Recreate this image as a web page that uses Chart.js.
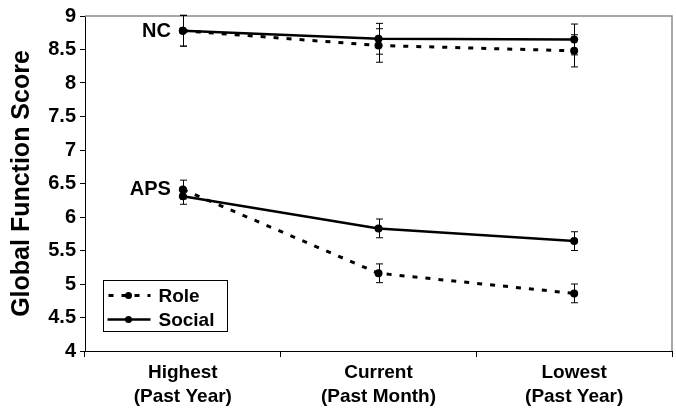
<!DOCTYPE html>
<html>
<head>
<meta charset="utf-8">
<script src="https://cdn.jsdelivr.net/npm/chart.js@4/dist/chart.umd.min.js"></script>
<style>
  html, body { margin: 0; padding: 0; background: #fff; }
  #wrap { width: 676px; height: 408px; position: relative; }
</style>
</head>
<body>
<div id="wrap"><canvas id="c" width="676" height="408"></canvas></div>
<script>
// ---- data ----
const categories = [["Highest", "(Past Year)"], ["Current", "(Past Month)"], ["Lowest", "(Past Year)"]];
const yTicks = [4, 4.5, 5, 5.5, 6, 6.5, 7, 7.5, 8, 8.5, 9];
const ncRole = [8.78, 8.56, 8.48];
const ncRoleErr = [0.23, 0.25, 0.24];
const ncSocial = [8.78, 8.66, 8.65];
const ncSocialErr = [0.23, 0.23, 0.23];
const apsRole = [6.41, 5.16, 4.86];
const apsRoleErr = [0.14, 0.14, 0.14];
const apsSocial = [6.31, 5.83, 5.64];
const apsSocialErr = [0.12, 0.14, 0.14];
const seriesNames = ["Role", "Social"];
const groupLabels = ["NC", "APS"];

const FONT = "'Liberation Sans', Arial, sans-serif";
const roleStyle = { borderColor: "#000", backgroundColor: "#000", borderWidth: 3, borderDash: [5, 8], pointRadius: 4, pointBackgroundColor: "#000", pointBorderWidth: 0 };
const socialStyle = { borderColor: "#000", backgroundColor: "#000", borderWidth: 2.5, borderDash: [], pointRadius: 4, pointBackgroundColor: "#000", pointBorderWidth: 0 };

const datasets = [
  Object.assign({ label: "NC " + seriesNames[0], data: ncRole, errors: ncRoleErr }, roleStyle),
  Object.assign({ label: "NC " + seriesNames[1], data: ncSocial, errors: ncSocialErr }, socialStyle),
  Object.assign({ label: "APS " + seriesNames[0], data: apsRole, errors: apsRoleErr }, roleStyle),
  Object.assign({ label: "APS " + seriesNames[1], data: apsSocial, errors: apsSocialErr }, socialStyle)
];
datasets.forEach(d => { d.tension = 0; d.fill = false; });

// frame (top/right gray border)
const framePlugin = {
  id: "frame",
  beforeDatasetsDraw(chart) {
    const { ctx, chartArea: a } = chart;
    ctx.save();
    ctx.strokeStyle = "#8a8a8a";
    ctx.lineWidth = 1.5;
    ctx.beginPath();
    ctx.moveTo(a.left, a.top);
    ctx.lineTo(a.right, a.top);
    ctx.lineTo(a.right, a.bottom);
    ctx.stroke();
    ctx.restore();
  }
};

// error bars
const errorBarPlugin = {
  id: "errorBars",
  afterDatasetsDraw(chart) {
    const { ctx } = chart;
    const xs = chart.scales.x, ys = chart.scales.y;
    ctx.save();
    ctx.strokeStyle = "#000";
    ctx.lineWidth = 1;
    chart.data.datasets.forEach(ds => {
      ds.data.forEach((v, i) => {
        const e = ds.errors[i];
        const x = Math.round(xs.getPixelForValue(i)) + 0.5;
        const yt = ys.getPixelForValue(v + e);
        const yb = ys.getPixelForValue(v - e);
        ctx.beginPath();
        ctx.moveTo(x, yt); ctx.lineTo(x, yb);
        ctx.moveTo(x - 3.5, yt); ctx.lineTo(x + 3.5, yt);
        ctx.moveTo(x - 3.5, yb); ctx.lineTo(x + 3.5, yb);
        ctx.stroke();
      });
    });
    ctx.restore();
  }
};

// group labels and legend box
const annotPlugin = {
  id: "annot",
  afterDraw(chart) {
    const { ctx } = chart;
    const xs = chart.scales.x, ys = chart.scales.y;
    ctx.save();
    ctx.fillStyle = "#000";
    ctx.font = "bold 20px " + FONT;
    ctx.textBaseline = "middle";
    ctx.textAlign = "right";
    const x0 = xs.getPixelForValue(0);
    ctx.fillText(groupLabels[0], x0 - 12, ys.getPixelForValue(ncSocial[0]) + 1);
    ctx.fillText(groupLabels[1], x0 - 12, ys.getPixelForValue((apsRole[0] + apsSocial[0]) / 2) - 3);

    // legend
    const bx = 103.5, by = 280.5, bw = 124, bh = 51;
    ctx.fillStyle = "#fff";
    ctx.fillRect(bx, by, bw, bh);
    ctx.strokeStyle = "#000";
    ctx.lineWidth = 1;
    ctx.strokeRect(bx, by, bw, bh);
    const styles = [roleStyle, socialStyle];
    const rows = [by + 15, by + 39];
    styles.forEach((s, i) => {
      const y = rows[i];
      ctx.save();
      ctx.strokeStyle = "#000";
      ctx.lineWidth = s.borderWidth;
      ctx.setLineDash(s.borderDash);
      ctx.beginPath();
      if (i === 0) { ctx.moveTo(bx + 5, y); } else { ctx.moveTo(bx + 4, y); }
      ctx.lineTo(bx + 47, y);
      ctx.stroke();
      ctx.setLineDash([]);
      ctx.beginPath();
      ctx.arc(bx + 25, y, 3.5, 0, Math.PI * 2);
      ctx.fillStyle = "#000";
      ctx.fill();
      ctx.restore();
      ctx.fillStyle = "#000";
      ctx.font = "bold 19px " + FONT;
      ctx.textAlign = "left";
      ctx.textBaseline = "middle";
      ctx.fillText(seriesNames[i], bx + 55, y + 1);
    });
    ctx.restore();
  }
};

new Chart(document.getElementById("c"), {
  type: "line",
  data: { labels: categories, datasets },
  plugins: [framePlugin, errorBarPlugin, annotPlugin],
  options: {
    responsive: false,
    animation: false,
    layout: { padding: { top: 15, right: 2, left: 0, bottom: 0 } },
    plugins: { legend: { display: false }, tooltip: { enabled: false } },
    scales: {
      x: {
        type: "category",
        offset: true,
        grid: { offset: true, drawOnChartArea: false, tickLength: 6, color: "#000", tickWidth: 1 },
        border: { display: true, color: "#000", width: 1 },
        ticks: { color: "#000", font: { family: FONT, size: 19, weight: "bold", lineHeight: 1.3 }, padding: 3, maxRotation: 0 },
        afterFit(s) { s.height = 57; }
      },
      y: {
        min: 4, max: 9,
        afterBuildTicks(s) { s.ticks = yTicks.map(v => ({ value: v })); },
        grid: { drawOnChartArea: false, tickLength: 5, color: "#000", tickWidth: 1 },
        border: { display: true, color: "#000", width: 1 },
        ticks: { color: "#000", font: { family: FONT, size: 20, weight: "bold" }, padding: 4, callback: v => String(v) },
        title: { display: true, text: "Global Function Score", color: "#000", font: { family: FONT, size: 25, weight: "bold" }, padding: { top: 7, bottom: 2 } },
        afterFit(s) { s.width = 85; }
      }
    }
  }
});
</script>
</body>
</html>
